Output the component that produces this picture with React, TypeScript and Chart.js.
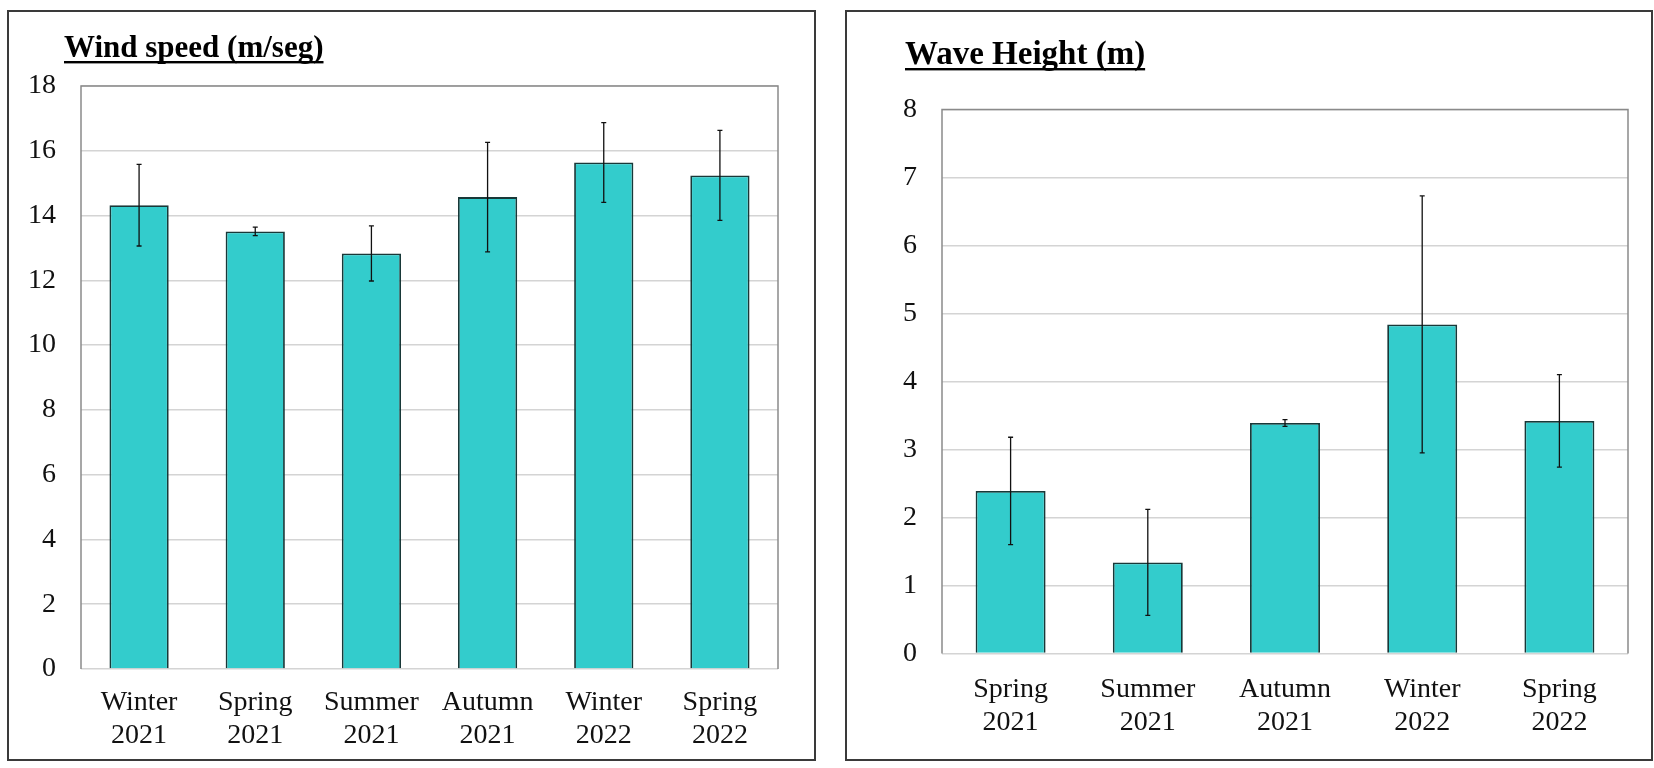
import React, { useEffect, useRef } from 'react';
import { Chart, registerables } from 'chart.js';

Chart.register(...registerables);

// ---------- data ----------
const windCategories = [
  ['Winter', '2021'],
  ['Spring', '2021'],
  ['Summer', '2021'],
  ['Autumn', '2021'],
  ['Winter', '2022'],
  ['Spring', '2022'],
];
const windValues = [14.32, 13.51, 12.83, 14.57, 15.64, 15.24];
const windErrors = [1.26, 0.13, 0.85, 1.69, 1.23, 1.39];
const windTitle = 'Wind speed (m/seg)';

const waveCategories = [
  ['Spring', '2021'],
  ['Summer', '2021'],
  ['Autumn', '2021'],
  ['Winter', '2022'],
  ['Spring', '2022'],
];
const waveValues = [2.39, 1.34, 3.39, 4.84, 3.42];
const waveErrors = [0.79, 0.78, 0.05, 1.89, 0.68];
const waveTitle = 'Wave Height (m)';

const FONT = '"Liberation Serif", "Times New Roman", "DejaVu Serif", serif';

type Params = {
  labels: string[][];
  values: number[];
  errors: number[];
  yMax: number;
  yStep: number;
  title: string;
  titleSize: number;
  titleX: number;
  titleBaseline: number;
  axisLeft: number;
  areaTop: number;
  xHeight: number;
  padRight: number;
  xPad: number;
};

function makeConfig(p: Params): any {
  const decor = {
    id: 'decor',
    beforeDatasetsDraw(chart: any) {
      const { ctx, chartArea } = chart;
      ctx.save();
      ctx.strokeStyle = '#8a8a8a';
      ctx.lineWidth = 1.5;
      ctx.beginPath();
      ctx.moveTo(chartArea.left, chartArea.bottom);
      ctx.lineTo(chartArea.left, chartArea.top);
      ctx.lineTo(chartArea.right, chartArea.top);
      ctx.lineTo(chartArea.right, chartArea.bottom);
      ctx.stroke();
      ctx.restore();
    },
    afterDatasetsDraw(chart: any) {
      const { ctx } = chart;
      const meta = chart.getDatasetMeta(0);
      const yScale = chart.scales.y;
      ctx.save();
      ctx.strokeStyle = '#111';
      ctx.lineWidth = 1.3;
      meta.data.forEach((bar: any, i: number) => {
        const v = p.values[i];
        const e = p.errors[i];
        const x = bar.x;
        const yTop = yScale.getPixelForValue(v + e);
        const yBot = yScale.getPixelForValue(v - e);
        ctx.beginPath();
        ctx.moveTo(x, yTop);
        ctx.lineTo(x, yBot);
        ctx.moveTo(x - 2.5, yTop);
        ctx.lineTo(x + 2.5, yTop);
        ctx.moveTo(x - 2.5, yBot);
        ctx.lineTo(x + 2.5, yBot);
        ctx.stroke();
      });
      ctx.restore();
    },
    afterDraw(chart: any) {
      const { ctx } = chart;
      ctx.save();
      ctx.font = `bold ${p.titleSize}px ${FONT}`;
      ctx.fillStyle = '#000';
      ctx.textBaseline = 'alphabetic';
      ctx.textAlign = 'left';
      ctx.fillText(p.title, p.titleX, p.titleBaseline);
      const w = ctx.measureText(p.title).width;
      ctx.fillRect(p.titleX, p.titleBaseline + 4, w, 2.4);
      ctx.restore();
    },
  };

  return {
    type: 'bar',
    data: {
      labels: p.labels,
      datasets: [
        {
          data: p.values,
          backgroundColor: '#33CCCC',
          borderColor: '#183838',
          borderWidth: 1.8,
          barPercentage: 0.51,
          categoryPercentage: 1,
        },
      ],
    },
    options: {
      responsive: false,
      maintainAspectRatio: false,
      animation: false,
      layout: { padding: { top: p.areaTop, right: p.padRight, left: 0, bottom: 0 } },
      plugins: {
        legend: { display: false },
        tooltip: { enabled: false },
        title: { display: false },
      },
      scales: {
        x: {
          grid: { display: false, drawTicks: false },
          border: { display: false },
          ticks: {
            color: '#111',
            font: { family: FONT, size: 28, lineHeight: 1.18 },
            padding: p.xPad,
            maxRotation: 0,
            autoSkip: false,
          },
          afterFit(scale: any) {
            scale.height = p.xHeight;
          },
        },
        y: {
          min: 0,
          max: p.yMax,
          grid: { color: '#d4d4d4', lineWidth: 1.5, drawTicks: false },
          border: { display: false },
          ticks: {
            stepSize: p.yStep,
            color: '#111',
            font: { family: FONT, size: 28 },
            padding: 25,
          },
          afterFit(scale: any) {
            scale.width = p.axisLeft;
          },
        },
      },
    },
    plugins: [decor],
  };
}

function ChartCanvas(props: { params: Params; width: number; height: number; left: number }) {
  const ref = useRef<HTMLCanvasElement | null>(null);
  useEffect(() => {
    if (!ref.current) return;
    const chart = new Chart(ref.current, makeConfig(props.params));
    return () => chart.destroy();
  }, []);
  return (
    <canvas
      ref={ref}
      width={props.width}
      height={props.height}
      style={{ position: 'absolute', left: props.left, top: 0, width: props.width, height: props.height }}
    />
  );
}

export default function App() {
  const windParams: Params = {
    labels: windCategories,
    values: windValues,
    errors: windErrors,
    yMax: 18,
    yStep: 2,
    title: windTitle,
    titleSize: 31,
    titleX: 64,
    titleBaseline: 57,
    axisLeft: 81,
    areaTop: 86,
    xHeight: 99,
    padRight: 52,
    xPad: 17,
  };
  const waveParams: Params = {
    labels: waveCategories,
    values: waveValues,
    errors: waveErrors,
    yMax: 8,
    yStep: 1,
    title: waveTitle,
    titleSize: 33,
    titleX: 75,
    titleBaseline: 64,
    axisLeft: 112,
    areaTop: 109.5,
    xHeight: 114.5,
    padRight: 26,
    xPad: 20,
  };
  return (
    <div style={{ position: 'fixed', left: 0, top: 0, width: 1654, height: 768, background: '#fff' }}>
      <div
        style={{
          position: 'absolute',
          left: 7,
          top: 10,
          width: 809,
          height: 751,
          border: '2px solid #3a3a3a',
          boxSizing: 'border-box',
        }}
      />
      <div
        style={{
          position: 'absolute',
          left: 845,
          top: 10,
          width: 808,
          height: 751,
          border: '2px solid #3a3a3a',
          boxSizing: 'border-box',
        }}
      />
      <ChartCanvas params={windParams} width={830} height={768} left={0} />
      <ChartCanvas params={waveParams} width={824} height={768} left={830} />
    </div>
  );
}
